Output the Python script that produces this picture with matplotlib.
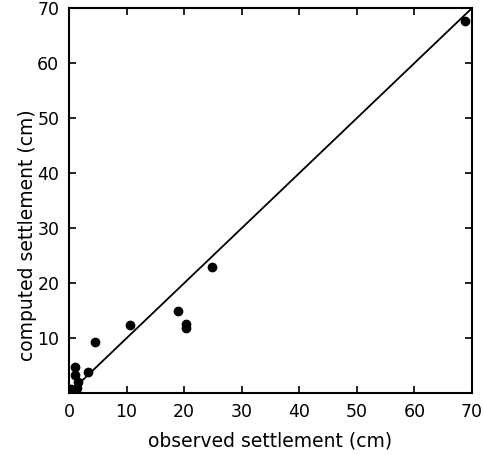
import numpy as np
import matplotlib.pyplot as plt

# observed vs computed settlement (cm)
observed = [68.8, 24.9, 19.0, 20.4, 20.4, 10.6, 4.5, 3.3, 1.0, 1.0, 1.6, 1.4, 0.7, 0.4, 0.9]
computed = [67.7, 22.9, 15.0, 12.5, 11.8, 12.4, 9.3, 3.8, 4.7, 3.3, 2.0, 0.9, 0.4, 0.8, 0.3]

x_ticks = [0, 10, 20, 30, 40, 50, 60, 70]
y_ticks = [10, 20, 30, 40, 50, 60, 70]

fig = plt.figure(figsize=(4.83, 4.55), dpi=100)
ax = fig.add_axes([0.143, 0.136, 0.834, 0.846])

ax.plot([0, 70], [0, 70], c='black', lw=1.3)
ax.plot(observed, computed, marker='o', markersize=6, lw=0, c='black')

ax.set_xlim(0, 70)
ax.set_ylim(0, 70)
ax.set_xticks(x_ticks)
ax.set_yticks(y_ticks)
ax.tick_params(direction='in', top=True, right=True, length=5, width=1.2, labelsize=12.5, pad=7)
for s in ax.spines.values():
	s.set_linewidth(1.5)

ax.set_xlabel('observed settlement (cm)', fontsize=13.5, labelpad=8)
ax.set_ylabel('computed settlement (cm)', fontsize=13.5)
ax.yaxis.set_label_coords(-0.08, 0.41)

fig.savefig('out.png', dpi=100)
